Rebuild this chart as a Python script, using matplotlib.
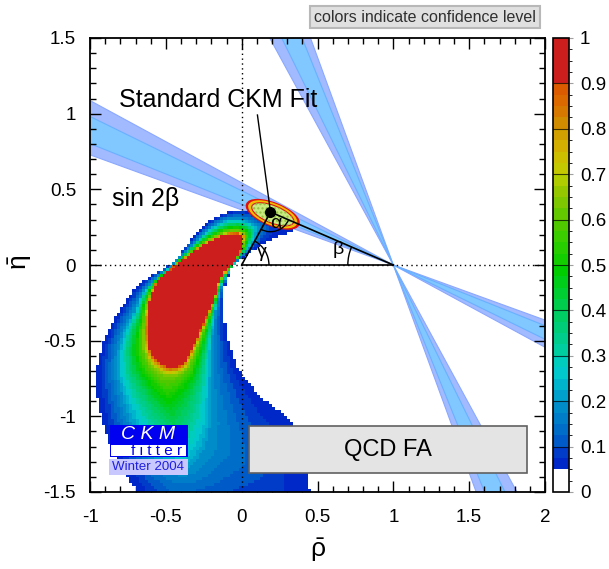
import numpy as np
import matplotlib
matplotlib.use("Agg")
import matplotlib.pyplot as plt
from matplotlib.path import Path
from matplotlib.colors import ListedColormap, BoundaryNorm
from matplotlib.patches import Polygon, Ellipse, Arc, Rectangle
from matplotlib.ticker import MultipleLocator, FuncFormatter
import matplotlib.cm as cm

plt.rcParams['font.family'] = ['Liberation Sans', 'DejaVu Sans']
plt.rcParams['mathtext.fontset'] = 'custom'
plt.rcParams['mathtext.rm'] = 'Liberation Sans'
plt.rcParams['mathtext.it'] = 'Liberation Sans'
plt.rcParams['mathtext.bf'] = 'Liberation Sans:bold'
plt.rcParams['axes.unicode_minus'] = False

# ---------------- data ----------------
# sin(2beta) constraint (central value, inner and outer half widths)
sin2b_central = 0.741
sin2b_err_inner = 0.050
sin2b_err_outer = 0.098

# fitted apex of the unitarity triangle
apex_rho, apex_eta = 0.19, 0.35

# standard fit ellipse (centre, full axes, tilt in degrees)
ell_rho, ell_eta = 0.205, 0.335
ell_major, ell_minor, ell_tilt = 0.36, 0.14, -21.6

# outer boundary of the QCD FA confidence-level region (CL = 0.05)
outer_rho = [-0.62, -0.69, -0.80, -0.865, -0.92, -0.95, -0.955, -0.95, -0.92, -0.87,
             -0.81, -0.72, -0.667, -0.58, -0.48, -0.435, -0.415, -0.39, -0.35, -0.30,
             -0.24, -0.17, -0.11, -0.05, 0.03, 0.10, 0.17, 0.25, 0.33, 0.345,
             0.25, 0.15, 0.05, -0.03, -0.07, -0.094, -0.115, -0.12, -0.115, -0.10,
             -0.075, -0.04, 0.02, 0.08, 0.16, 0.24, 0.30, 0.34, 0.38, 0.42, 0.455, 0.48]
outer_eta = [-1.70, -1.50, -1.32, -1.20, -1.03, -0.87, -0.75, -0.65, -0.53, -0.42,
             -0.31, -0.18, -0.12, -0.06, 0.0, 0.03, 0.06, 0.10, 0.15, 0.21,
             0.27, 0.32, 0.35, 0.364, 0.365, 0.345, 0.32, 0.29, 0.255, 0.23,
             0.195, 0.15, 0.08, 0.02, -0.02, -0.086, -0.16, -0.25, -0.35, -0.45,
             -0.55, -0.66, -0.75, -0.82, -0.90, -0.96, -1.01, -1.06, -1.15, -1.30, -1.50, -1.70]

# CL = 0.2 contour (blue / cyan boundary)
c20_rho = [-0.40, -0.53, -0.63, -0.71, -0.77, -0.82, -0.81, -0.77, -0.71, -0.67,
           -0.62, -0.56, -0.47, -0.42, -0.36, -0.30, -0.24, -0.17, -0.10, -0.03,
           0.05, 0.10, 0.09, 0.04, -0.005, -0.055, -0.10, -0.13, -0.16, -0.18,
           -0.19, -0.20, -0.20, -0.20, -0.20, -0.24, -0.30, -0.35]
c20_eta = [-1.35, -1.31, -1.22, -1.09, -0.92, -0.72, -0.55, -0.42, -0.32, -0.21,
           -0.14, -0.08, -0.01, 0.04, 0.10, 0.16, 0.22, 0.27, 0.305, 0.31,
           0.29, 0.25, 0.18, 0.10, 0.065, 0.0, -0.07, -0.14, -0.26, -0.36,
           -0.47, -0.60, -0.75, -0.90, -1.05, -1.20, -1.30, -1.34]

# boundary of the CL > 0.9 core
core_rho = [0.005, -0.03, -0.09, -0.16, -0.22, -0.27, -0.32, -0.36, -0.40, -0.44,
            -0.48, -0.53, -0.56, -0.59, -0.615, -0.625, -0.625, -0.615, -0.59, -0.557,
            -0.51, -0.47, -0.42, -0.38, -0.35, -0.31, -0.27, -0.235, -0.20, -0.17,
            -0.15, -0.12, -0.08, -0.04, -0.005]
core_eta = [0.19, 0.21, 0.205, 0.18, 0.15, 0.12, 0.085, 0.055, 0.025, 0.0,
            -0.04, -0.08, -0.11, -0.18, -0.26, -0.35, -0.45, -0.54, -0.60, -0.635,
            -0.665, -0.68, -0.675, -0.65, -0.60, -0.52, -0.43, -0.36, -0.28, -0.20,
            -0.12, -0.06, -0.01, 0.04, 0.10]

cbar_ticks = [0, 0.1, 0.2, 0.3, 0.4, 0.5, 0.6, 0.7, 0.8, 0.9, 1]
x_ticks = [-1, -0.5, 0, 0.5, 1, 1.5, 2]
y_ticks = [-1.5, -1, -0.5, 0, 0.5, 1, 1.5]

# ---------------- colour palette (steps of 0.025) ----------------
pal = [(255, 255, 255), (255, 255, 255),
       (0, 40, 200), (0, 60, 200),
       (0, 90, 200), (0, 110, 200), (0, 125, 200), (0, 140, 200),
       (0, 160, 205), (0, 180, 205), (0, 200, 205), (0, 205, 190),
       (0, 205, 160), (0, 205, 140), (0, 205, 120), (0, 205, 100),
       (0, 205, 75), (0, 205, 50), (0, 205, 25), (0, 205, 0),
       (20, 205, 0), (40, 205, 0), (60, 205, 0), (80, 200, 0),
       (100, 200, 0), (125, 200, 0), (150, 200, 0), (175, 205, 0),
       (195, 200, 0), (205, 190, 0), (210, 175, 0), (210, 160, 0),
       (210, 140, 0), (215, 120, 0), (220, 105, 0), (220, 90, 0),
       (205, 30, 30), (205, 30, 30), (205, 30, 30), (205, 30, 30)]
cmap = ListedColormap([tuple(c / 255 for c in p) for p in pal])
levels = np.linspace(0, 1, 41)
norm = BoundaryNorm(levels, cmap.N)


def boundary_distance(points, poly):
    P = np.asarray(poly)
    d = np.full(len(points), np.inf)
    for a, b in zip(P, np.roll(P, -1, axis=0)):
        ab = b - a
        t = np.clip(((points - a) @ ab) / (ab @ ab), 0, 1)
        proj = a + t[:, None] * ab
        d = np.minimum(d, np.hypot(*(points - proj).T))
    return d


# ---------------- figure ----------------
fig = plt.figure(figsize=(6.09, 5.69), dpi=100)
W, H = 609, 569
ax = fig.add_axes([90 / W, 1 - 492 / H, 455 / W, 454 / H])
cax = fig.add_axes([553 / W, 1 - 492 / H, 16 / W, 454 / H])

ax.set_xlim(-1, 2)
ax.set_ylim(-1.5, 1.5)

# sin 2beta bands (two branches through (1, 0))
def beta_range(err):
    lo = 0.5 * np.degrees(np.arcsin(sin2b_central - err))
    hi = 0.5 * np.degrees(np.arcsin(sin2b_central + err))
    return lo, hi

L = 6.0
for err, fc, ec in [(sin2b_err_outer, '#a2baff', '#8aa8ff'),
                    (sin2b_err_inner, '#80c8ff', '#6ab0ff')]:
    blo, bhi = beta_range(err)
    for t1, t2 in [(180 - bhi, 180 - blo), (90 + blo, 90 + bhi)]:
        u1 = np.array([np.cos(np.radians(t1)), np.sin(np.radians(t1))])
        u2 = np.array([np.cos(np.radians(t2)), np.sin(np.radians(t2))])
        c = np.array([1.0, 0.0])
        for s in (1, -1):
            ax.add_patch(Polygon([c, c + s * L * u1, c + s * L * u2], closed=True,
                                 facecolor=fc, edgecolor=ec, lw=0.8, zorder=1))

# confidence level map
dx = 0.02
xe = np.arange(-1, 2 + dx / 2, dx)
ye = np.arange(-1.5, 1.5 + dx / 2, dx)
xc = 0.5 * (xe[1:] + xe[:-1])
yc = 0.5 * (ye[1:] + ye[:-1])
XX, YY = np.meshgrid(xc, yc)
pts = np.column_stack([XX.ravel(), YY.ravel()])
outer_poly = np.column_stack([outer_rho, outer_eta])
c20_poly = np.column_stack([c20_rho, c20_eta])
core_poly = np.column_stack([core_rho, core_eta])
in_out = Path(outer_poly).contains_points(pts)
in_20 = Path(c20_poly).contains_points(pts)
in_core = Path(core_poly).contains_points(pts)
d_o = boundary_distance(pts, outer_poly)
d_20 = boundary_distance(pts, c20_poly)
d_c = boundary_distance(pts, core_poly)

cl = np.full(len(pts), np.nan)
s_out = d_o / (d_o + d_20 + 1e-9)
cl_out = 0.055 + 0.145 * s_out ** 1.3
s_in = d_20 / (d_20 + d_c + 1e-9)
cl_in = np.interp(s_in, [0, 0.2, 0.45, 0.85, 1.0], [0.2, 0.3, 0.43, 0.65, 0.9])
sel = in_out & ~in_20
cl[sel] = cl_out[sel]
sel = in_20 & ~in_core
cl[sel] = cl_in[sel]
cl[in_core] = 0.95
CL = np.ma.masked_invalid(cl.reshape(XX.shape))
ax.pcolormesh(xe, ye, CL, cmap=cmap, norm=norm, zorder=2, rasterized=True)

# guide lines
ax.axvline(0, color='black', ls=(0, (1, 2.5)), lw=1, zorder=3)
ax.axhline(0, color='black', ls=(0, (1, 2.5)), lw=1, zorder=3)

# unitarity triangle
ax.plot([0, 1], [0, 0], color='black', lw=1.2, zorder=4)
g_ang = np.degrees(np.arctan2(apex_eta, apex_rho))
b_ang = np.degrees(np.arctan2(apex_eta, 1 - apex_rho))
ax.add_patch(Arc((0, 0), 0.36, 0.36, theta1=0, theta2=g_ang, color='black', lw=1, zorder=4))
ax.add_patch(Arc((1, 0), 0.60, 0.60, theta1=180 - b_ang, theta2=180, color='black', lw=1, zorder=4))

# standard fit ellipse
for scale, fc, ec, lw in [(1.0, 'none', '#e01010', 2.0), (0.9, 'none', '#f0c000', 2.0),
                          (0.82, '#c8ea80', '#e01010', 0.8)]:
    ax.add_patch(Ellipse((ell_rho, ell_eta), ell_major * scale, ell_minor * scale,
                         angle=ell_tilt, facecolor=fc, edgecolor=ec, lw=lw, zorder=5))
ax.add_patch(Ellipse((ell_rho, ell_eta), ell_major * 0.82, ell_minor * 0.82, angle=ell_tilt,
                     facecolor='none', edgecolor='#90c040', hatch='....', lw=0, zorder=5))
ax.plot([0, apex_rho, 1], [0, apex_eta, 0], color='black', lw=1.2, zorder=6)
a1 = np.degrees(np.arctan2(-apex_eta, -apex_rho))
a2 = 360 + np.degrees(np.arctan2(-apex_eta, 1 - apex_rho))
ax.add_patch(Arc((apex_rho, apex_eta), 0.26, 0.26, theta1=a1, theta2=a2, color='black', lw=1, zorder=6))
ax.plot([apex_rho], [apex_eta], 'o', color='black', ms=7, zorder=7)
ax.plot([0.104, apex_rho], [0.991, apex_eta], color='black', lw=1, zorder=6)

# angle labels
ax.text(0.13, 0.085, 'γ', fontsize=14, ha='center', va='center', zorder=7)
ax.text(0.64, 0.10, 'β', fontsize=14, ha='center', va='center', zorder=7)
ax.text(0.225, 0.275, 'α', fontsize=14, ha='center', va='center', zorder=7)

# texts
ax.text(-0.812, 1.046, 'Standard CKM Fit', fontsize=18, ha='left', va='baseline', zorder=7)
ax.text(-0.853, 0.39, 'sin 2β', fontsize=18, ha='left', va='baseline', zorder=7)
ax.add_patch(Rectangle((0.046, -1.376), 1.834, 0.314, facecolor='#e4e4e4',
                       edgecolor='#606060', lw=1.2, zorder=7))
ax.text(0.963, -1.222, 'QCD FA', fontsize=17, ha='center', va='center', zorder=8)

# CKMfitter logo
ax.add_patch(Rectangle((-0.871, -1.269), 0.515, 0.212, facecolor='#0000f0', edgecolor='none', zorder=8))
ax.add_patch(Rectangle((-0.862, -1.262), 0.498, 0.072, facecolor='white', edgecolor='none', zorder=8))
ax.add_patch(Rectangle((-0.876, -1.388), 0.523, 0.106, facecolor='#c8c8ff', edgecolor='none', zorder=8))
ax.text(-0.62, -1.123, 'C K M', fontsize=14, color='white', style='italic',
        ha='center', va='center', zorder=9)
ax.text(-0.39, -1.226, 'f i t t e r', fontsize=11, color='#0000f0',
        ha='right', va='center', zorder=9)
ax.text(-0.615, -1.335, 'Winter 2004', fontsize=9.6, color='#2020e0',
        ha='center', va='center', zorder=9)

# axes styling
ax.set_xticks(x_ticks)
ax.set_yticks(y_ticks)
ax.xaxis.set_minor_locator(MultipleLocator(0.1))
ax.yaxis.set_minor_locator(MultipleLocator(0.1))
fmt = FuncFormatter(lambda v, p: '%g' % v)
ax.xaxis.set_major_formatter(fmt)
ax.yaxis.set_major_formatter(fmt)
ax.tick_params(which='both', direction='in', top=True, right=True, width=1)
ax.tick_params(which='major', length=8, labelsize=13.5)
ax.tick_params(axis='x', which='major', pad=12)
ax.tick_params(axis='y', which='major', pad=10)
ax.tick_params(which='minor', length=4.5)
for sp in ax.spines.values():
    sp.set_linewidth(1.3)
    sp.set_zorder(10)

fig.text(318 / W, 1 - 550 / H, r'$\bar{\rho}$', fontsize=19, ha='center', va='center')
fig.text(20 / W, 1 - 262 / H, r'$\bar{\eta}$', fontsize=19, ha='center', va='center', rotation=90)

# colour bar
cb = fig.colorbar(cm.ScalarMappable(norm=norm, cmap=cmap), cax=cax, ticks=cbar_ticks)
cb.outline.set_linewidth(1.2)
cb.ax.yaxis.set_major_formatter(fmt)
cb.ax.tick_params(labelsize=13.5, length=3, color='#a0a0a0', pad=5)
for v in cbar_ticks[1:-1]:
    cax.axhline(v, color='black', lw=0.8, alpha=0.7)

# header box
fig.text(425 / W, 1 - 17 / H, 'colors indicate confidence level', fontsize=11.5,
         color='#303030', ha='center', va='center',
         bbox=dict(boxstyle='square,pad=0.25', facecolor='#e0e0e0', edgecolor='#b8b8b8', lw=1.5))

fig.savefig('out.png', dpi=100)
